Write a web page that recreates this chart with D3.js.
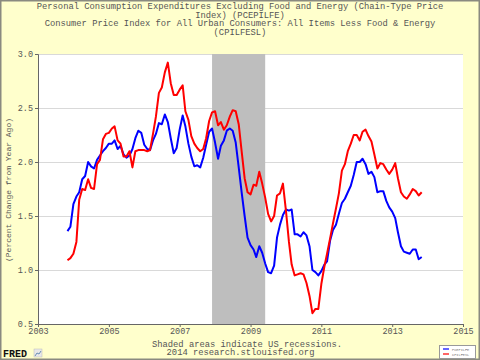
<!DOCTYPE html>
<html>
<head>
<meta charset="utf-8">
<script src="https://cdn.jsdelivr.net/npm/d3@7"></script>
<style>
html,body{margin:0;padding:0;background:#fff;}
svg{display:block;}
text{font-family:"Liberation Mono","Courier New",monospace;}
</style>
</head>
<body>
<svg id="chart" width="480" height="360"></svg>
<script>
// ---- data ----
const titleLines = [
  "Personal Consumption Expenditures Excluding Food and Energy (Chain-Type Price",
  "Index) (PCEPILFE)",
  "Consumer Price Index for All Urban Consumers: All Items Less Food & Energy",
  "(CPILFESL)"
];
const yLabel = "(Percent Change from Year Ago)";
const footLines = ["Shaded areas indicate US recessions.", "2014 research.stlouisfed.org"];
const seriesNames = ["PCEPILFE", "CPILFESL"];
const seriesColors = ["#0000ff", "#ff0000"];
const startMonth = [2003, 11]; // first observation: Nov 2003, monthly
const pcepilfe = [
  1.36,1.40,1.61,1.68,1.72,1.84,1.87,2.00,1.96,1.94,2.02,2.06,2.10,2.13,
  2.17,2.17,2.20,2.12,2.15,2.07,2.04,2.06,2.12,2.22,2.29,2.27,
  2.16,2.12,2.11,2.20,2.26,2.36,2.35,2.44,2.37,2.22,2.08,2.13,
  2.30,2.43,2.33,2.17,2.05,1.96,1.97,1.95,2.04,2.16,2.28,2.31,
  2.18,2.03,2.15,2.20,2.29,2.31,2.29,2.18,1.95,1.72,1.50,1.30,
  1.23,1.19,1.12,1.22,1.16,1.06,0.98,0.97,1.04,1.30,1.42,1.51,
  1.56,1.55,1.56,1.33,1.33,1.31,1.35,1.32,1.22,1.00,0.98,0.95,
  0.99,1.05,1.08,1.27,1.37,1.42,1.52,1.62,1.66,1.72,1.78,1.88,
  2.00,2.00,2.03,1.98,1.89,1.91,1.86,1.72,1.73,1.73,1.64,1.58,
  1.54,1.48,1.35,1.22,1.17,1.16,1.15,1.19,1.19,1.10,1.12
];
const cpilfesl = [
  1.09,1.11,1.15,1.26,1.65,1.75,1.74,1.84,1.76,1.75,1.98,2.02,2.21,2.26,
  2.27,2.31,2.33,2.20,2.17,2.05,2.05,2.10,1.95,2.10,2.11,2.11,
  2.11,2.10,2.11,2.26,2.42,2.64,2.69,2.83,2.92,2.73,2.62,2.62,
  2.67,2.71,2.47,2.39,2.24,2.17,2.13,2.10,2.12,2.22,2.38,2.46,
  2.47,2.34,2.37,2.30,2.34,2.42,2.48,2.47,2.35,2.10,1.85,1.72,
  1.70,1.79,1.78,1.91,1.80,1.67,1.52,1.45,1.50,1.69,1.71,1.80,
  1.55,1.26,1.05,0.95,0.96,0.97,0.96,0.88,0.76,0.60,0.64,0.64,
  0.87,1.03,1.15,1.29,1.43,1.57,1.71,1.92,1.98,2.10,2.17,2.25,
  2.25,2.20,2.28,2.30,2.24,2.19,2.07,1.94,1.99,1.98,1.93,1.89,
  1.93,1.99,1.85,1.72,1.68,1.66,1.70,1.75,1.73,1.69,1.72
];
const recessionStart = "2007-12-01", recessionEnd = "2009-06-01";
const yTicks = [0.5, 1.0, 1.5, 2.0, 2.5, 3.0];
const xTickYears = [2003, 2005, 2007, 2009, 2011, 2013, 2015];

// ---- layout ----
const W = 480, H = 360;
const plot = {left: 38, right: 463, top: 54, bottom: 324};
const svg = d3.select("#chart");

svg.append("rect").attr("x", 0.75).attr("y", 0.75).attr("width", W - 1.5).attr("height", H - 1.5)
  .attr("fill", "#ffffcc").attr("stroke", "#8a8a80").attr("stroke-width", 1.5);

const x = d3.scaleTime()
  .domain([new Date(2003, 0, 1), new Date(2015, 0, 1)])
  .range([plot.left, plot.right]);
const y = d3.scaleLinear().domain([0.5, 3.0]).range([plot.bottom, plot.top]);

const dateAt = i => new Date(startMonth[0], startMonth[1] - 1 + i, 1);

svg.append("rect").attr("x", plot.left).attr("y", plot.top)
  .attr("width", plot.right - plot.left).attr("height", plot.bottom - plot.top)
  .attr("fill", "#ffffff");

// grid
svg.append("g").selectAll("line").data(yTicks.slice(1)).join("line")
  .attr("x1", plot.left).attr("x2", plot.right)
  .attr("y1", d => Math.round(y(d)) + 0.5).attr("y2", d => Math.round(y(d)) + 0.5)
  .attr("stroke", "#d9d9d9").attr("stroke-width", 1);

// recession
svg.append("rect")
  .attr("x", x(new Date(recessionStart)))
  .attr("y", plot.top)
  .attr("width", x(new Date(recessionEnd)) - x(new Date(recessionStart)))
  .attr("height", plot.bottom - plot.top)
  .attr("fill", "#bebebe");

// lines
const line = d3.line().x((d, i) => x(dateAt(i))).y(d => y(d));
[pcepilfe, cpilfesl].forEach((s, k) => {
  svg.append("path").datum(s).attr("d", line)
    .attr("fill", "none").attr("stroke", seriesColors[k])
    .attr("stroke-width", 2).attr("stroke-linejoin", "round");
});

// axes
const yAxis = d3.axisLeft(y).tickValues(yTicks).tickFormat(d3.format(".1f")).tickSize(3).tickPadding(2);
const gy = svg.append("g").attr("transform", `translate(${plot.left},0)`).call(yAxis);
const xAxis = d3.axisBottom(x).tickValues(xTickYears.map(v => new Date(v, 0, 1)))
  .tickFormat(d3.timeFormat("%Y")).tickSize(3).tickPadding(1);
const gx = svg.append("g").attr("transform", `translate(0,${plot.bottom})`).call(xAxis);
[gx, gy].forEach(g => {
  g.select(".domain").attr("stroke", "#666");
  g.selectAll(".tick line").attr("stroke", "#666");
  g.selectAll("text").attr("fill", "#555").attr("font-size", "8.5px")
    .attr("font-family", "'Liberation Mono','Courier New',monospace");
});

// title
svg.append("g").selectAll("text").data(titleLines).join("text")
  .attr("x", 240).attr("y", (d, i) => 9 + i * 8.7)
  .attr("text-anchor", "middle").attr("font-size", "8.8px").attr("fill", "#555")
  .text(d => d);

// y label
svg.append("text").attr("transform", "translate(11,190) rotate(-90)")
  .attr("text-anchor", "middle").attr("font-size", "8px").attr("fill", "#555")
  .text(yLabel);

// footer
svg.append("text").attr("x", 247).attr("y", 346.5).attr("text-anchor", "middle")
  .attr("font-size", "8.8px").attr("fill", "#555").text(footLines[0]);
svg.append("text").attr("x", 240.5).attr("y", 355).attr("text-anchor", "middle")
  .attr("font-size", "8.8px").attr("fill", "#555").text(footLines[1]);

// FRED logo
svg.append("text").attr("x", 3).attr("y", 357).attr("font-family", "'Liberation Sans',Arial,sans-serif")
  .attr("font-weight", "bold").attr("font-size", "10px").attr("fill", "#111").text("FRED");
const logo = svg.append("g").attr("transform", "translate(34,349)");
logo.append("rect").attr("width", 8).attr("height", 8).attr("fill", "#e8e8e8").attr("stroke", "#bbb").attr("stroke-width", 0.5);
logo.append("path").attr("d", "M1,7 L3,4 L5,5 L7,2").attr("fill", "none").attr("stroke", "#6a8fb5").attr("stroke-width", 1);

// legend
const lg = svg.append("g").attr("transform", "translate(439,345)");
lg.append("rect").attr("x", 0.5).attr("y", 0.5).attr("width", 36).attr("height", 13)
  .attr("fill", "#ffffff").attr("stroke", "#999").attr("stroke-width", 1);
seriesNames.forEach((n, i) => {
  lg.append("line").attr("x1", 4).attr("x2", 10).attr("y1", 4 + i * 5).attr("y2", 4 + i * 5)
    .attr("stroke", seriesColors[i]).attr("stroke-width", 1.2);
  lg.append("text").attr("x", 13).attr("y", 5.5 + i * 5).attr("font-size", "3.6px").attr("fill", "#777").text(n);
});
</script>
</body>
</html>
